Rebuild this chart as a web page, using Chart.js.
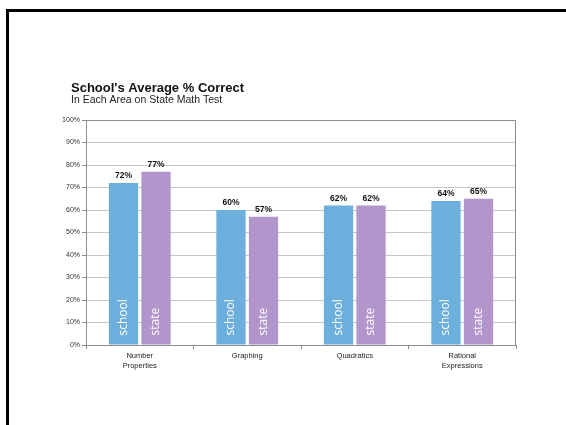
<!DOCTYPE html>
<html>
<head>
<meta charset="utf-8">
<script src="https://cdn.jsdelivr.net/npm/chart.js@4"></script>
<style>
  html, body { margin: 0; padding: 0; background: #fff; }
  #wrap { position: relative; width: 566px; height: 425px; }
</style>
</head>
<body>
<div id="wrap"><canvas id="math-chart" width="566" height="425"></canvas></div>
<script>
const categories = [["Number", "Properties"], "Graphing", "Quadratics", ["Rational", "Expressions"]];
const schoolScores = [72, 60, 62, 64];
const stateScores = [77, 57, 62, 65];
const yTicks = [0, 10, 20, 30, 40, 50, 60, 70, 80, 90, 100];

const chartTitle = "School's Average % Correct";
const chartSubtitle = "In Each Area on State Math Test";

// slide frame + headings
const slidePlugin = {
    id: "slide",
    beforeDraw(chart) {
        const ctx = chart.ctx;
        ctx.save();
        ctx.fillStyle = "#000";
        ctx.fillRect(6, 9, 560, 3);
        ctx.fillRect(6, 9, 3, 416);
        ctx.textAlign = "left";
        ctx.textBaseline = "alphabetic";
        ctx.fillStyle = "#111";
        ctx.font = "bold 13px 'Liberation Sans', Arial, sans-serif";
        ctx.fillText(chartTitle, 71, 91.5);
        ctx.fillStyle = "#222";
        ctx.font = "10.5px 'Liberation Sans', Arial, sans-serif";
        ctx.fillText(chartSubtitle, 71, 103);
        ctx.restore();
    },
    afterDraw(chart) {
        const a = chart.chartArea;
        const ctx = chart.ctx;
        ctx.save();
        ctx.strokeStyle = "#8c8c8c";
        ctx.lineWidth = 1;
        ctx.beginPath();
        ctx.moveTo(a.left, a.top + 0.5);
        ctx.lineTo(a.right - 0.5, a.top + 0.5);
        ctx.lineTo(a.right - 0.5, a.bottom);
        ctx.stroke();
        ctx.restore();
    },
};

// value labels above bars, series names inside bars
const barTextPlugin = {
    id: "barText",
    afterDatasetsDraw(chart) {
        const ctx = chart.ctx;
        ctx.save();
        chart.data.datasets.forEach((ds, i) => {
            chart.getDatasetMeta(i).data.forEach((bar, j) => {
                ctx.fillStyle = "#111";
                ctx.font = "bold 8.5px 'Liberation Sans', Arial, sans-serif";
                ctx.textAlign = "center";
                ctx.textBaseline = "alphabetic";
                ctx.fillText(ds.data[j] + "%", bar.x, bar.y - 5);

                ctx.save();
                ctx.translate(bar.x, bar.base - 9);
                ctx.rotate(-Math.PI / 2);
                ctx.fillStyle = "#fff";
                ctx.font = "12px 'Open Sans', sans-serif";
                ctx.textAlign = "left";
                ctx.textBaseline = "middle";
                ctx.fillText(ds.label, 0, 0);
                ctx.restore();
            });
        });
        ctx.restore();
    },
};

const mathChart = new Chart(document.getElementById("math-chart"), {
    type: "bar",
    data: {
        labels: categories,
        datasets: [
            {
                label: "school",
                data: schoolScores,
                backgroundColor: "#6caedc",
                barPercentage: 0.9,
                categoryPercentage: 0.605,
            },
            {
                label: "state",
                data: stateScores,
                backgroundColor: "#b195cb",
                barPercentage: 0.9,
                categoryPercentage: 0.605,
            },
        ],
    },
    options: {
        responsive: false,
        animation: false,
        layout: { padding: { left: 40, right: 50, top: 120, bottom: 50 } },
        plugins: {
            legend: { display: false },
            title: { display: false },
            tooltip: { enabled: false },
        },
        scales: {
            x: {
                afterFit: (scale) => { scale.height = 30; },
                border: { color: "#8c8c8c" },
                grid: {
                    offset: true,
                    drawOnChartArea: false,
                    tickLength: 4,
                    tickColor: "#8c8c8c",
                },
                ticks: {
                    color: "#222",
                    padding: 2,
                    font: { family: "'Liberation Sans', Arial, sans-serif", size: 7.5, lineHeight: 1.3 },
                },
            },
            y: {
                min: 0,
                max: 100,
                afterFit: (scale) => { scale.width = 46; },
                afterBuildTicks: (scale) => { scale.ticks = yTicks.map((v) => ({ value: v })); },
                border: { color: "#8c8c8c" },
                grid: {
                    color: "#c6c6c6",
                    tickLength: 4,
                    tickColor: "#8c8c8c",
                },
                ticks: {
                    color: "#333",
                    padding: 2,
                    callback: (v) => v + "%",
                    font: { family: "'Liberation Sans', Arial, sans-serif", size: 7 },
                },
            },
        },
    },
    plugins: [slidePlugin, barTextPlugin],
});
</script>
</body>
</html>
